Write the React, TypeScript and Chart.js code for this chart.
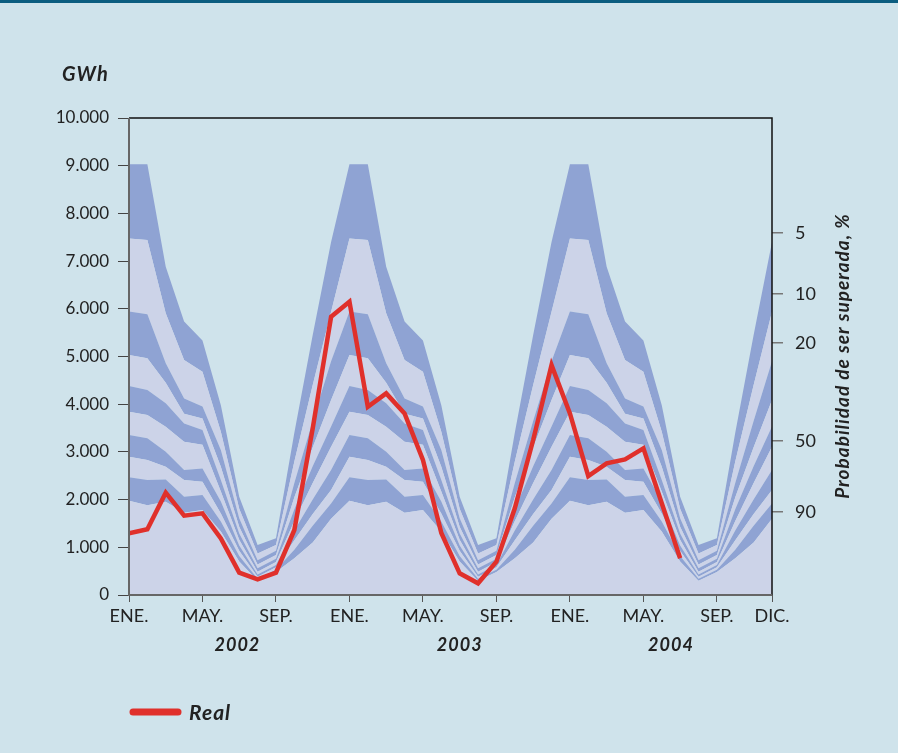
import React, { useEffect, useRef } from 'react';
import { Chart, registerables } from 'chart.js';

Chart.register(...registerables);

// ---- Data ----
// Monthly climatological exceedance bands (Jan..Dec), GWh, lowest boundary first
const band1 = [1977, 1880, 1956, 1726, 1782, 1330, 700, 300, 480, 770, 1100, 1600];
const band2 = [2466, 2410, 2420, 2061, 2096, 1540, 820, 340, 530, 950, 1450, 1920];
const band3 = [2899, 2830, 2690, 2410, 2375, 1710, 930, 380, 580, 1150, 1700, 2200];
const band4 = [3354, 3284, 3004, 2620, 2650, 1960, 1040, 430, 630, 1350, 2000, 2620];
const band5 = [3843, 3773, 3528, 3214, 3150, 2170, 1160, 490, 690, 1550, 2350, 3110];
const band6 = [4381, 4297, 4018, 3598, 3458, 2410, 1290, 560, 760, 1800, 2700, 3530];
const band7 = [5030, 4962, 4450, 3800, 3700, 2690, 1430, 640, 840, 2050, 3100, 4090];
const band8 = [5943, 5887, 4857, 4120, 3950, 3040, 1610, 730, 930, 2350, 3650, 4900];
const band9 = [7476, 7440, 5905, 4926, 4680, 3420, 1810, 870, 1050, 2800, 4400, 5940];
const band10 = [9030, 9030, 6882, 5733, 5334, 3980, 2060, 1050, 1190, 3400, 5450, 7400];

// Real monthly values, Jan 2002 .. Jul 2004
const real2002 = [1293, 1377, 2145, 1663, 1712, 1188, 468, 328, 468, 1363, 3494, 5833];
const real2003 = [6150, 3947, 4227, 3808, 2830, 1300, 454, 245, 698, 1817, 3249, 4820];
const real2004 = [3808, 2494, 2760, 2844, 3075, 1922, 769];

const xTickIndex = [0, 4, 8, 12, 16, 20, 24, 28, 32, 35];
const xTickLabels = ['ENE.', 'MAY.', 'SEP.', 'ENE.', 'MAY.', 'SEP.', 'ENE.', 'MAY.', 'SEP.', 'DIC.'];
const years = ['2002', '2003', '2004'];
const yearPos = [5.9, 18.0, 29.5];

const probValues = [7589, 6310, 5289, 3228, 1746];
const probLabels = ['5', '10', '20', '50', '90'];

const BG = '#cfe3eb';
const DARK = '#8fa3d3';
const LIGHT = '#ccd3e8';
const RED = '#e0302b';
const TEXT = '#222222';

export default function App() {
  const ref = useRef<HTMLCanvasElement | null>(null);

  useEffect(() => {
    const canvas = ref.current;
    if (!canvas) return;
    const bands = [band1, band2, band3, band4, band5, band6, band7, band8, band9, band10];
    const real = [...real2002, ...real2003, ...real2004];

    const bandDatasets = bands.map((b, k) => {
      const series = [...b, ...b, ...b];
      return {
        label: 'b' + k,
        data: series.map((y, i) => ({ x: i, y })),
        fill: k === 0 ? 'origin' : '-1',
        backgroundColor: k % 2 === 0 ? LIGHT : DARK,
        borderColor: 'rgba(0,0,0,0)',
        borderWidth: 0,
        pointRadius: 0,
        tension: 0,
        order: 1,
      };
    });

    const realDataset = {
      label: 'Real',
      data: real.map((y, i) => ({ x: i, y })),
      fill: false,
      borderColor: RED,
      backgroundColor: RED,
      borderWidth: 4.5,
      pointRadius: 0,
      tension: 0,
      borderJoinStyle: 'miter',
      order: -1,
    };

    const decor = {
      id: 'decor',
      beforeDraw(chart: any) {
        const ctx = chart.ctx;
        ctx.save();
        ctx.fillStyle = BG;
        ctx.fillRect(0, 0, chart.width, chart.height);
        ctx.fillStyle = '#0b5d80';
        ctx.fillRect(0, 0, chart.width, 3);
        ctx.restore();
      },
      afterDraw(chart: any) {
        const ctx = chart.ctx;
        const a = chart.chartArea;
        const xs = chart.scales.x;
        ctx.save();
        // frame
        ctx.lineWidth = 1.5;
        ctx.strokeStyle = '#111';
        ctx.beginPath();
        ctx.moveTo(a.left, a.top);
        ctx.lineTo(a.right, a.top);
        ctx.lineTo(a.right, a.bottom);
        ctx.stroke();
        ctx.strokeStyle = '#666';
        ctx.lineWidth = 2;
        ctx.beginPath();
        ctx.moveTo(a.left, a.top);
        ctx.lineTo(a.left, a.bottom);
        ctx.lineTo(a.right, a.bottom);
        ctx.stroke();

        ctx.fillStyle = TEXT;
        ctx.textBaseline = 'middle';
        // GWh
        ctx.font = 'italic bold 20px Lato';
        ctx.textAlign = 'left';
        (ctx as any).letterSpacing = '1px';
        ctx.fillText('GWh', 62, 75);
        // years
        ctx.font = 'italic bold 18px Lato';
        ctx.textAlign = 'center';
        years.forEach((y, i) => {
          ctx.fillText(y, xs.getPixelForValue(yearPos[i]), 645);
        });
        // right title
        ctx.save();
        ctx.translate(843, 356);
        ctx.rotate(-Math.PI / 2);
        ctx.font = 'italic bold 19px Lato';
        ctx.textAlign = 'center';
        (ctx as any).letterSpacing = '1px';
        ctx.fillText('Probabilidad de ser superada, %', 0, 0);
        ctx.restore();
        // legend
        ctx.strokeStyle = RED;
        ctx.lineWidth = 7;
        ctx.lineCap = 'round';
        ctx.beginPath();
        ctx.moveTo(133, 712);
        ctx.lineTo(178, 712);
        ctx.stroke();
        ctx.font = 'italic bold 21px Lato';
        ctx.textAlign = 'left';
        (ctx as any).letterSpacing = '1px';
        ctx.fillText('Real', 189, 713);
        ctx.restore();
      },
    };

    const chart = new Chart(canvas, {
      type: 'line',
      data: { datasets: [...bandDatasets, realDataset] as any },
      options: {
        animation: false,
        responsive: false,
        devicePixelRatio: 1,
        layout: { padding: { top: 118, left: 0, right: 0, bottom: 0 } },
        plugins: { legend: { display: false }, tooltip: { enabled: false }, title: { display: false } },
        elements: { line: { borderCapStyle: 'butt' } },
        scales: {
          x: {
            type: 'linear',
            min: 0,
            max: 35,
            afterBuildTicks: (s: any) => {
              s.ticks = xTickIndex.map((v) => ({ value: v }));
            },
            afterFit: (s: any) => {
              s.height = 158;
            },
            ticks: {
              autoSkip: false,
              maxRotation: 0,
              padding: 3,
              color: TEXT,
              font: { family: 'Lato', size: 18 },
              callback: (_v: any, i: number) => xTickLabels[i],
            },
            grid: { drawOnChartArea: false, drawTicks: true, tickLength: 7, color: '#555', lineWidth: 1 },
            border: { display: false },
          },
          y: {
            type: 'linear',
            position: 'left',
            min: 0,
            max: 10000,
            afterFit: (s: any) => {
              s.width = 129;
            },
            ticks: {
              stepSize: 1000,
              padding: 9,
              color: TEXT,
              font: { family: 'Lato', size: 17 },
              callback: (v: any) => (v === 0 ? '0' : String(v / 1000) + '.000'),
            },
            grid: { drawOnChartArea: false, drawTicks: true, tickLength: 11, color: '#444', lineWidth: 1 },
            border: { display: false },
          },
          y2: {
            type: 'linear',
            position: 'right',
            min: 0,
            max: 10000,
            afterBuildTicks: (s: any) => {
              s.ticks = probValues.map((v) => ({ value: v }));
            },
            afterFit: (s: any) => {
              s.width = 126;
            },
            ticks: {
              autoSkip: false,
              padding: 12,
              color: TEXT,
              font: { family: 'Lato', size: 18 },
              callback: (_v: any, i: number) => probLabels[i],
            },
            grid: { drawOnChartArea: false, drawTicks: true, tickLength: 11, color: '#777', lineWidth: 1.5 },
            border: { display: false },
          },
        },
      },
      plugins: [decor],
    });
    return () => chart.destroy();
  }, []);

  return (
    <div style={{ position: 'fixed', left: 0, top: 0, width: 898, height: 753, background: BG }}>
      <canvas ref={ref} width={898} height={753} style={{ display: 'block', width: 898, height: 753 }} />
    </div>
  );
}
